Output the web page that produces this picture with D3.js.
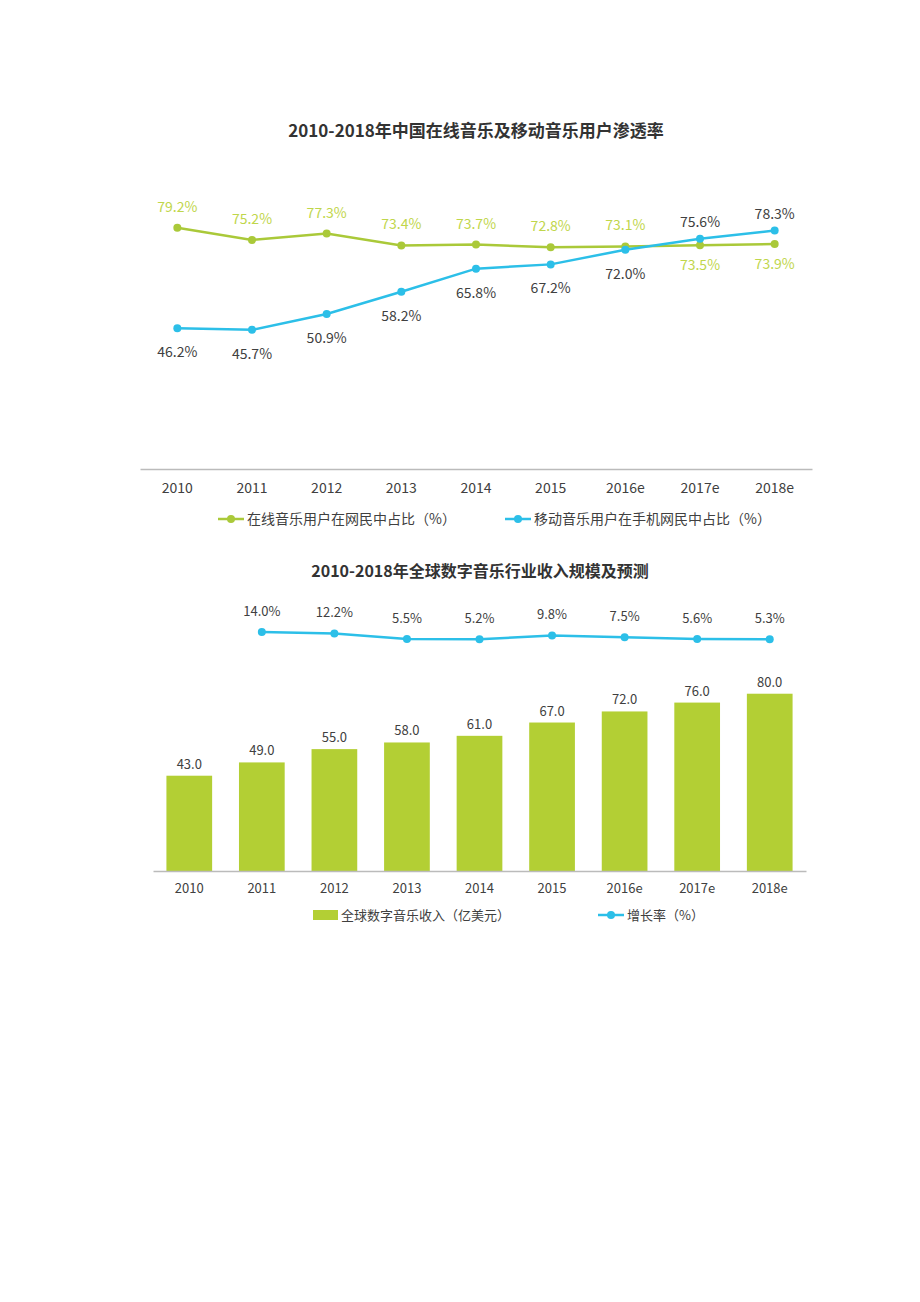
<!DOCTYPE html>
<html>
<head>
<meta charset="utf-8">
<script src="https://cdn.jsdelivr.net/npm/d3@7"></script>
<style>
  body { margin: 0; background: #fff; }
  text { font-family: "Noto Sans CJK SC", "Noto Sans", sans-serif; }
</style>
</head>
<body>
<div id="container"></div>
<script>
/* DATA */
const years = ["2010", "2011", "2012", "2013", "2014", "2015", "2016e", "2017e", "2018e"];
const onlineShare = [79.2, 75.2, 77.3, 73.4, 73.7, 72.8, 73.1, 73.5, 73.9];
const mobileShare = [46.2, 45.7, 50.9, 58.2, 65.8, 67.2, 72.0, 75.6, 78.3];
const revenue = [43.0, 49.0, 55.0, 58.0, 61.0, 67.0, 72.0, 76.0, 80.0];
const growthYears = years.slice(1);
const growth = [14.0, 12.2, 5.5, 5.2, 9.8, 7.5, 5.6, 5.3];

const title1 = "2010-2018年中国在线音乐及移动音乐用户渗透率";
const title2 = "2010-2018年全球数字音乐行业收入规模及预测";
const legend1 = ["在线音乐用户在网民中占比（%）", "移动音乐用户在手机网民中占比（%）"];
const legend2 = ["全球数字音乐收入（亿美元）", "增长率（%）"];

/* CONSTANTS */
const width = 920,
      height = 1302;
const green = "#aac939",
      greenText = "#bfd64b",
      blue = "#2cbfe8",
      barGreen = "#b3cf34",
      textGray = "#404040";

const svg = d3.select("#container")
              .append("svg")
              .attr("width", width)
              .attr("height", height);

/* ---------- CHART 1 ---------- */
svg.append("text")
   .attr("x", 476).attr("y", 137)
   .attr("text-anchor", "middle")
   .style("font-size", "17px").style("font-weight", "bold")
   .style("fill", "#333")
   .text(title1);

const x1 = d3.scaleBand().domain(years).range([140, 812]);
const y1 = d3.scaleLinear().domain([0, 100]).range([469, 164.5]);

const axis1 = svg.append("g")
   .attr("transform", "translate(0,469)")
   .call(d3.axisBottom(x1).tickSize(0).tickPadding(14));
axis1.select(".domain").attr("stroke", "#bbb").attr("stroke-width", 1.5);
axis1.selectAll("text").style("font-size", "14px").style("fill", textGray)
     .style("font-family", "'Noto Sans CJK SC', sans-serif");

const cx1 = d => x1(d) + x1.bandwidth() / 2;
const line1 = d3.line().x((d, i) => cx1(years[i])).y(d => y1(d));

svg.append("path").datum(onlineShare)
   .attr("d", line1).attr("fill", "none")
   .attr("stroke", green).attr("stroke-width", 2.5);
svg.append("path").datum(mobileShare)
   .attr("d", line1).attr("fill", "none")
   .attr("stroke", blue).attr("stroke-width", 2.5);

svg.append("g").selectAll("circle").data(onlineShare).enter()
   .append("circle")
   .attr("cx", (d, i) => cx1(years[i])).attr("cy", d => y1(d))
   .attr("r", 4).style("fill", green);
svg.append("g").selectAll("circle").data(mobileShare).enter()
   .append("circle")
   .attr("cx", (d, i) => cx1(years[i])).attr("cy", d => y1(d))
   .attr("r", 4).style("fill", blue);

svg.append("g").selectAll("text").data(onlineShare).enter()
   .append("text")
   .attr("x", (d, i) => cx1(years[i]))
   .attr("y", (d, i) => d >= mobileShare[i] ? y1(d) - 16 : y1(d) + 25)
   .attr("text-anchor", "middle")
   .style("font-size", "14px").style("fill", greenText)
   .text(d => d.toFixed(1) + "%");
svg.append("g").selectAll("text").data(mobileShare).enter()
   .append("text")
   .attr("x", (d, i) => cx1(years[i]))
   .attr("y", (d, i) => d < onlineShare[i] ? y1(d) + 29 : y1(d) - 12)
   .attr("text-anchor", "middle")
   .style("font-size", "14px").style("fill", textGray)
   .text(d => d.toFixed(1) + "%");

// legend 1
const leg1 = [{x: 218, color: green, text: legend1[0]}, {x: 505, color: blue, text: legend1[1]}];
leg1.forEach(l => {
  svg.append("line").attr("x1", l.x).attr("x2", l.x + 26)
     .attr("y1", 519).attr("y2", 519)
     .attr("stroke", l.color).attr("stroke-width", 2.5);
  svg.append("circle").attr("cx", l.x + 13).attr("cy", 519).attr("r", 4).style("fill", l.color);
  svg.append("text").attr("x", l.x + 29).attr("y", 524)
     .style("font-size", "14px").style("fill", textGray).text(l.text);
});

/* ---------- CHART 2 ---------- */
svg.append("text")
   .attr("x", 480).attr("y", 577)
   .attr("text-anchor", "middle")
   .style("font-size", "16px").style("font-weight", "bold")
   .style("fill", "#333")
   .text(title2);

const x2 = d3.scaleBand().domain(years).range([153, 806]).paddingInner(0.37).paddingOuter(0.185);
const y2 = d3.scaleLinear().domain([0, 100]).range([871, 649.4]);
const yg = d3.scaleLinear().domain([0, 20]).range([643.5, 627.1]);
const cx2 = d => x2(d) + x2.bandwidth() / 2;

svg.append("g").selectAll("rect").data(revenue).enter()
   .append("rect")
   .attr("x", (d, i) => x2(years[i]))
   .attr("y", d => y2(d))
   .attr("width", x2.bandwidth())
   .attr("height", d => y2(0) - y2(d))
   .style("fill", barGreen);

svg.append("g").selectAll("text").data(revenue).enter()
   .append("text")
   .attr("x", (d, i) => cx2(years[i]))
   .attr("y", d => y2(d) - 7)
   .attr("text-anchor", "middle")
   .style("font-size", "13px").style("fill", textGray)
   .text(d => d.toFixed(1));

const axis2 = svg.append("g")
   .attr("transform", "translate(0,871)")
   .call(d3.axisBottom(x2).tickSize(0).tickPadding(13));
axis2.select(".domain").attr("stroke", "#bbb").attr("stroke-width", 1.5);
axis2.selectAll("text").style("font-size", "13px").style("fill", textGray)
     .style("font-family", "'Noto Sans CJK SC', sans-serif");

const line2 = d3.line().x((d, i) => cx2(growthYears[i])).y(d => yg(d));
svg.append("path").datum(growth)
   .attr("d", line2).attr("fill", "none")
   .attr("stroke", blue).attr("stroke-width", 2.5);
svg.append("g").selectAll("circle").data(growth).enter()
   .append("circle")
   .attr("cx", (d, i) => cx2(growthYears[i])).attr("cy", d => yg(d))
   .attr("r", 4).style("fill", blue);
svg.append("g").selectAll("text").data(growth).enter()
   .append("text")
   .attr("x", (d, i) => cx2(growthYears[i]))
   .attr("y", d => yg(d) - 16)
   .attr("text-anchor", "middle")
   .style("font-size", "13px").style("fill", textGray)
   .text(d => d.toFixed(1) + "%");

// legend 2
svg.append("rect").attr("x", 313).attr("y", 910).attr("width", 25).attr("height", 10).style("fill", barGreen);
svg.append("text").attr("x", 341).attr("y", 920)
   .style("font-size", "13px").style("fill", textGray).text(legend2[0]);
svg.append("line").attr("x1", 598).attr("x2", 624).attr("y1", 915).attr("y2", 915)
   .attr("stroke", blue).attr("stroke-width", 2.5);
svg.append("circle").attr("cx", 611).attr("cy", 915).attr("r", 4).style("fill", blue);
svg.append("text").attr("x", 627).attr("y", 920)
   .style("font-size", "13px").style("fill", textGray).text(legend2[1]);
</script>
</body>
</html>
